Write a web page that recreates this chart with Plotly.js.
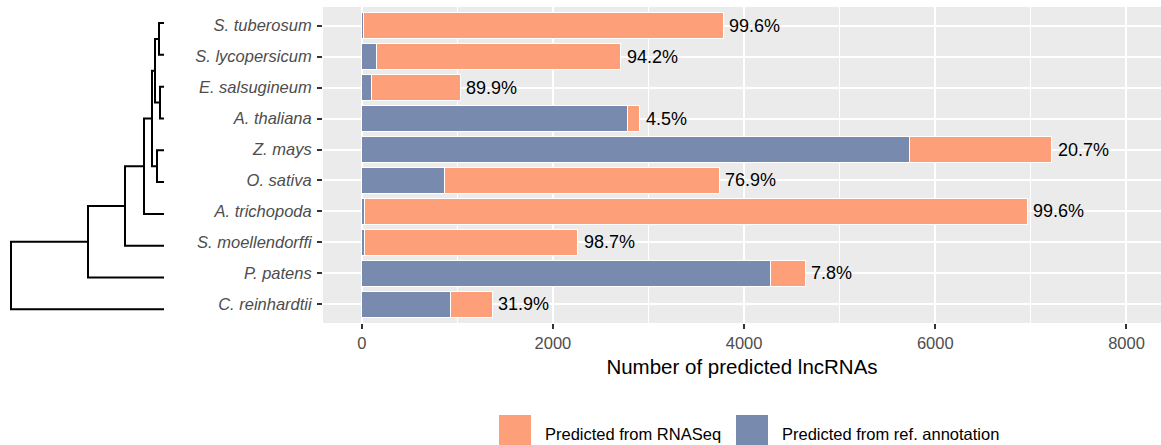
<!DOCTYPE html>
<html>
<head>
<meta charset="utf-8">
<script src="https://cdn.plot.ly/plotly-3.0.1.min.js"></script>
<style>html,body{margin:0;padding:0;background:#fff;}#chart{width:1161px;height:445px;}</style>
</head>
<body>
<div id="chart"></div>
<script>
// ---- data ----
const species = ['S. tuberosum','S. lycopersicum','E. salsugineum','A. thaliana','Z. mays',
                 'O. sativa','A. trichopoda','S. moellendorffi','P. patens','C. reinhardtii'];
const fromRefAnnotation = [15, 157, 104, 2776, 5725, 864, 28, 29, 4276, 932];
const fromRNASeq        = [3765, 2553, 926, 131, 1495, 2878, 6935, 2229, 362, 436];
const pctRNASeq         = ['99.6%','94.2%','89.9%','4.5%','20.7%','76.9%','99.6%','98.7%','7.8%','31.9%'];
const xTicks = [0, 2000, 4000, 6000, 8000];
const seriesNames = ['Predicted from RNASeq', 'Predicted from ref. annotation'];
// dendrogram: hclust-style merge (negative = leaf index, 1-based; positive = earlier merge)
const treeMerge  = [[-1,-2],[-3,-4],[-5,-6],[1,2],[4,3],[5,-7],[6,-8],[7,-9],[8,-10]];
const treeHeight = [5, 4, 7, 9, 12, 20, 39, 76, 153];

// ---- style ----
const ORANGE = '#FD9F79';
const BLUE = '#788AAD';
const FONT = 'Liberation Sans, Arial, Helvetica, sans-serif';

// dendrogram segments
const nodeY = [], nodeH = [];
const dx = [], dy = [];
function childPos(c){
  if (c < 0) return {y: -c - 1, h: 0};
  return {y: nodeY[c-1], h: nodeH[c-1]};
}
treeMerge.forEach((m, i) => {
  const a = childPos(m[0]), b = childPos(m[1]);
  const h = treeHeight[i];
  dx.push(a.h, h, h, b.h, null);
  dy.push(a.y, a.y, b.y, b.y, null);
  nodeY.push((a.y + b.y) / 2);
  nodeH.push(h);
});

const totals = species.map((s, i) => fromRefAnnotation[i] + fromRNASeq[i]);

const traces = [
  {type:'bar', orientation:'h', name: seriesNames[1], y: species, x: fromRefAnnotation,
   marker:{color: BLUE, line:{color:'white', width:1}}, showlegend:false, hoverinfo:'x+y'},
  {type:'bar', orientation:'h', name: seriesNames[0], y: species, x: fromRNASeq,
   marker:{color: ORANGE, line:{color:'white', width:1}}, showlegend:false, hoverinfo:'x+y'},
  {type:'scatter', mode:'lines', x: dx, y: dy, xaxis:'x2', yaxis:'y2',
   line:{color:'black', width:2}, hoverinfo:'skip', showlegend:false, connectgaps:false}
];

const annotations = species.map((s, i) => ({
  x: totals[i], y: s, xref:'x', yref:'y', text: pctRNASeq[i], showarrow:false,
  xanchor:'left', yanchor:'middle', xshift: 4, font:{family: FONT, size: 18, color:'#000'}
}));

// custom legend
const legendItems = [
  {name: seriesNames[0], color: ORANGE, x0: 499, x1: 531, tx: 543},
  {name: seriesNames[1], color: BLUE, x0: 736, x1: 768, tx: 780}
];
const W = 1161, panelTop = 7, panelBottom = 323, ph = panelBottom - panelTop;
const py = p => (panelBottom - p) / ph;
const legendShapes = [];
legendItems.forEach(it => {
  legendShapes.push({type:'rect', xref:'paper', yref:'paper', x0: it.x0 / W, x1: it.x1 / W,
    y0: py(447), y1: py(415), fillcolor: it.color, line:{width:0}});
  annotations.push({xref:'paper', yref:'paper', x: it.tx / W, y: py(434), text: it.name,
    showarrow:false, xanchor:'left', yanchor:'middle', font:{family: FONT, size: 16.5, color:'#000'}});
});

const layout = {
  width: 1161, height: 445,
  margin: {l:0, r:0, t: panelTop, b: 445 - panelBottom, pad:0},
  paper_bgcolor:'white', plot_bgcolor:'rgba(0,0,0,0)',
  font: {family: FONT},
  barmode:'stack', bargap: 0.15,
  xaxis: {
    domain: [323 / W, 1], range: [-405, 8361], tickvals: xTicks, ticktext: xTicks.map(String),
    showgrid:true, gridcolor:'white', gridwidth:2, zeroline:false,
    minor: {tickvals:[-1000, 1000, 3000, 5000, 7000], showgrid:true, gridcolor:'white', gridwidth:1, ticks:''},
    ticks:'outside', ticklen:5, tickwidth:2, tickcolor:'#333333',
    tickfont:{family: FONT, size:16.5, color:'#4d4d4d'},
    title:{text:'Number of predicted lncRNAs', font:{family: FONT, size:20.5, color:'#000'}, standoff: 8},
    showline:false, fixedrange:true, layer:'below traces'
  },
  yaxis: {
    type:'category', categoryorder:'array', categoryarray: species, range:[9.6, -0.6],
    showgrid:true, gridcolor:'white', gridwidth:2, zeroline:false,
    ticks:'outside', ticklen:5, tickwidth:2, tickcolor:'#333333', ticklabelstandoff: 2,
    tickfont:{family: FONT, size:16.5, color:'#4d4d4d', style:'italic'},
    showline:false, fixedrange:true, layer:'below traces'
  },
  xaxis2: {domain:[0, 174 / W], range:[164, -10], anchor:'y2', visible:false, fixedrange:true},
  yaxis2: {domain:[0, 1], range:[9.43, -0.503], anchor:'x2', visible:false, fixedrange:true},
  shapes: [
    {type:'rect', xref:'paper', yref:'paper', x0: 323 / W, x1: 1, y0: 0, y1: 1,
     fillcolor:'#EBEBEB', line:{width:0}, layer:'below'}
  ].concat(legendShapes),
  annotations: annotations,
  showlegend:false
};

Plotly.newPlot('chart', traces, layout, {displayModeBar:false, staticPlot:true});
</script>
</body>
</html>
